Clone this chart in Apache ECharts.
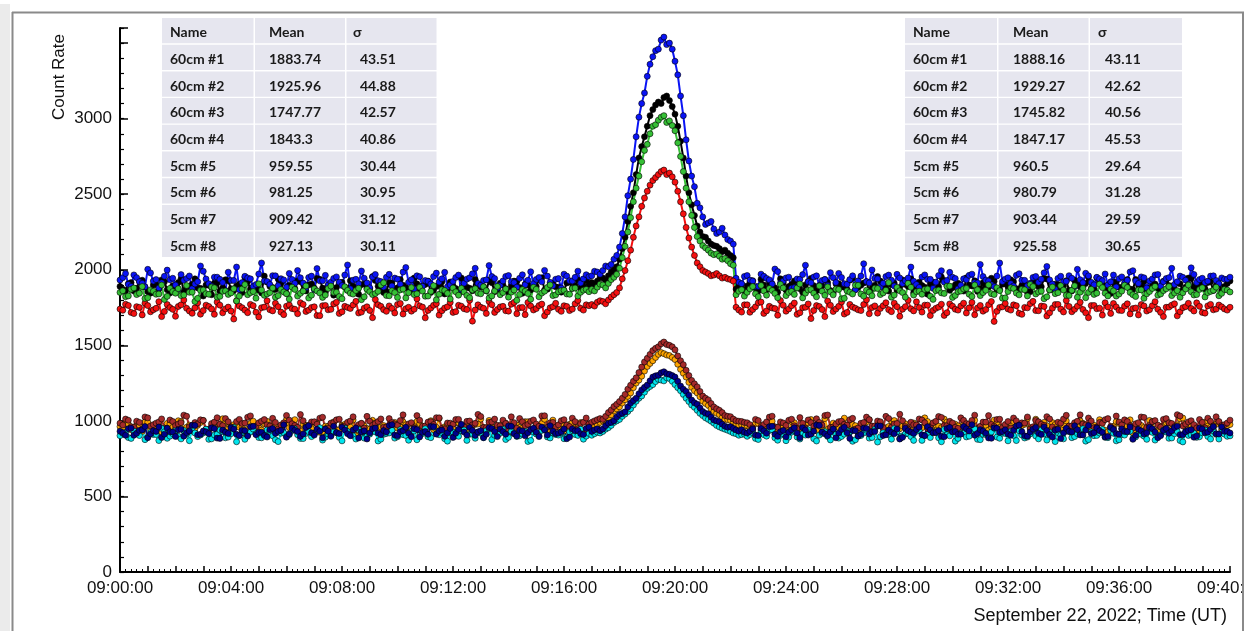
<!DOCTYPE html>
<html>
<head>
<meta charset="utf-8">
<script src="https://cdn.jsdelivr.net/npm/echarts@6/dist/echarts.min.js"></script>
<style>
html,body{margin:0;padding:0;background:#fff;}
#chart{width:1245px;height:631px;}
</style>
</head>
<body>
<div id="chart"></div>
<script>
// Samples: "A" arrays at 09:00:00 + 0,12,24,... s ; "B" arrays at 09:00:00 + 6,18,30,... s
const stepSeconds = 12;
const offsetB = 6;

// ---- 60 cm #1 (black) ----
const s60_1A = [1890,1862,1915,1878,1931,1855,1899,1873,1920,1846,1887,1941,1869,1905,1880,1826,1897,1911,1858,1934,1875,1893,1849,1922,1884,1866,1958,1891,1870,1909,1843,1888,1926,1861,1900,1879,1937,1852,1896,1883,1917,1864,1892,1838,1906,1874,1929,1887,1856,1912,1881,1898,1869,1945,1876,1903,1850,1889,1921,1866,1894,1841,1908,1878,1935,1886,1860,1914,1873,1899,1851,1925,1882,1904,1867,1890,1947,1871,1909,1885,1862,1918,1894,1877,1930,
1915,1925,1945,1960,2000,2070,2215,2420,2630,2815,2950,3060,3110,3140,3120,3030,2850,2620,2430,2290,2220,2190,2160,2140,2130,2095,
1872,1905,1893,1928,1860,1899,1916,1881,1940,1867,1902,1887,1851,1922,1895,1877,1936,1863,1908,1889,1870,1945,1884,1912,1856,1897,1925,1879,1903,1866,1933,1890,1848,1918,1885,1906,1872,1952,1894,1881,1911,1859,1899,1927,1876,1890,1944,1868,1904,1886,1921,1874,1897,1855,1913,1888,1939,1870,1902,1893,1865,1930,1887,1909,1878,1948,1891,1861,1917,1884,1900,1873,1936,1892,1858,1911,1880,1924,1896,1869,1907,1885,1942,1876,1898,1915,1863,1903,1889,1926];
const s60_1B = [1871,1908,1859,1924,1886,1845,1902,1933,1868,1895,1916,1853,1889,1940,1877,1899,1835,1912,1881,1927,1863,1904,1950,1872,1890,1847,1918,1883,1939,1858,1897,1876,1921,1860,1906,1943,1879,1893,1832,1910,1886,1928,1867,1901,1875,1955,1891,1849,1914,1870,1935,1882,1857,1907,1893,1925,1864,1898,1840,1919,1876,1946,1885,1861,1903,1888,1931,1855,1911,1874,1896,1922,1844,1900,1880,1938,1866,1905,1887,1852,1913,1878,1932,1890,1902,
1905,1950,1930,1985,2020,2140,2320,2510,2740,2880,3020,3090,3100,3150,3080,2950,2740,2510,2360,2250,2215,2170,2155,2120,2110,2080,
1897,1864,1919,1881,1937,1870,1906,1852,1913,1889,1926,1875,1900,1943,1862,1892,1915,1846,1908,1884,1931,1868,1897,1921,1877,1955,1890,1859,1911,1883,1903,1940,1871,1896,1838,1917,1888,1929,1864,1901,1879,1947,1893,1857,1914,1886,1923,1869,1908,1934,1875,1898,1851,1919,1890,1942,1866,1905,1881,1928,1860,1902,1887,1950,1873,1910,1894,1843,1916,1882,1935,1869,1899,1924,1877,1906,1858,1931,1891,1912,1867,1945,1886,1903,1874,1920,1896,1862,1909];

// ---- 60 cm #2 (blue) ----
const s60_2A = [1932,1975,1890,1948,1911,2003,1925,1880,1957,1934,1899,1968,1942,1875,1921,1990,1908,1951,1937,1862,1929,2018,1915,1946,1889,1972,1926,1903,1960,1941,1884,1936,1995,1912,1949,1870,1927,1963,1918,1953,1896,2032,1931,1907,1944,1881,1969,1922,1950,1893,1938,1985,1917,1872,1954,1929,1906,1978,1940,1888,1923,1965,1911,1947,2010,1898,1933,1955,1879,1926,1962,1915,1944,1901,1987,1936,1920,1958,1894,1942,1971,1928,1950,1912,1967,
1960,1985,1995,2020,2070,2150,2350,2600,2880,3100,3280,3410,3460,3540,3500,3380,3150,2860,2620,2440,2350,2310,2270,2250,2230,2190,
1944,1908,1962,1925,1890,1957,1933,2005,1912,1946,1878,1939,1968,1921,1952,1897,1935,1981,1916,1949,1904,1960,1927,2040,1913,1942,1886,1955,1931,1970,1909,1945,1924,1883,1966,1937,1918,1994,1929,1951,1874,1940,1963,1915,2035,1932,1901,1958,1922,1947,1893,1974,1930,1911,1956,1938,2022,1906,1943,1920,1961,1889,1934,1977,1917,1950,1928,1899,1965,1941,1912,1986,1926,1953,1880,1939,1969,1921,1948,1903,1958,1931,2013,1916,1944,1925,1960,1908,1937,1951];
const s60_2B = [1948,1903,1966,1921,1887,1979,1935,1914,1998,1944,1871,1930,1959,1906,2025,1939,1893,1951,1916,1984,1929,1868,1957,1940,1902,2045,1923,1961,1895,1933,1976,1910,1947,1881,1958,2008,1927,1899,1943,1918,1965,1874,1937,1992,1913,1952,1928,1886,1970,1945,1905,2015,1934,1960,1891,1924,1955,1919,1983,1900,1949,1866,1938,1973,1910,1929,2028,1942,1897,1956,1921,1885,1967,1931,1908,1949,1996,1917,1937,1879,1958,1926,1991,1940,1954,
1990,1970,2025,2035,2095,2240,2490,2730,3010,3170,3360,3450,3520,3490,3460,3290,3020,2720,2550,2410,2300,2320,2240,2275,2200,2170,
1917,1956,1932,1890,1971,1943,1906,1988,1925,1951,1882,1937,2030,1914,1960,1929,1897,1948,1976,1908,1935,1869,1958,1922,1999,1940,1911,1965,1893,1946,1927,2018,1903,1952,1936,1877,1962,1919,1983,1942,1898,1934,1971,1913,1955,1926,1889,2045,1938,1909,1963,1930,1895,1949,1918,1980,1933,1871,1957,1924,1944,2003,1915,1960,1901,1939,1972,1920,1886,1953,1931,1994,1910,1947,1926,1966,1892,1942,2010,1921,1950,1904,1969,1935,1915,1958,1929,1946,1938];

// ---- 60 cm #3 (red) ----
const s60_3A = [1740,1772,1718,1756,1701,1763,1735,1789,1724,1750,1692,1768,1745,1712,1781,1730,1757,1705,1766,1741,1727,1794,1749,1716,1762,1688,1753,1736,1778,1720,1759,1743,1709,1771,1733,1755,1696,1764,1738,1785,1722,1751,1767,1714,1746,1731,1803,1758,1725,1744,1770,1707,1752,1739,1761,1682,1747,1776,1729,1755,1718,1765,1742,1798,1734,1752,1711,1769,1737,1758,1726,1784,1749,1703,1760,1743,1773,1721,1756,1738,1762,1730,1775,1745,1768,
1770,1785,1790,1800,1835,1880,1995,2130,2290,2420,2520,2590,2630,2660,2640,2580,2450,2280,2150,2045,1995,1975,1965,1960,1950,1935,
1752,1720,1768,1737,1781,1711,1758,1743,1796,1726,1762,1705,1749,1774,1731,1757,1690,1765,1740,1787,1718,1753,1735,1770,1709,1761,1744,1782,1723,1756,1739,1798,1728,1750,1766,1697,1745,1772,1716,1759,1733,1779,1748,1702,1764,1737,1790,1725,1755,1741,1768,1712,1751,1776,1730,1760,1694,1746,1771,1721,1757,1738,1785,1715,1763,1742,1700,1754,1777,1732,1759,1708,1747,1770,1727,1762,1739,1690,1753,1775,1722,1756,1744,1781,1718,1761,1735,1767,1741,1752];
const s60_3B = [1732,1764,1710,1751,1779,1722,1745,1690,1770,1738,1757,1800,1727,1748,1706,1766,1741,1786,1715,1753,1674,1760,1733,1771,1719,1749,1795,1728,1756,1703,1767,1739,1782,1724,1750,1697,1762,1735,1774,1711,1758,1744,1791,1720,1755,1683,1769,1736,1761,1714,1777,1742,1726,1808,1753,1731,1765,1700,1747,1784,1723,1759,1737,1660,1768,1745,1790,1718,1754,1729,1772,1709,1751,1783,1734,1763,1696,1748,1778,1725,1757,1740,1797,1733,1762,
1760,1795,1775,1820,1850,1940,2060,2215,2350,2475,2560,2610,2650,2630,2615,2520,2370,2210,2095,2020,1985,1960,1975,1945,1940,1925,
1734,1768,1719,1755,1787,1728,1747,1699,1765,1741,1780,1716,1752,1677,1763,1737,1793,1724,1758,1707,1771,1745,1730,1801,1750,1713,1762,1736,1779,1692,1756,1742,1788,1720,1766,1731,1753,1698,1774,1739,1760,1714,1784,1747,1726,1769,1658,1751,1777,1733,1762,1705,1748,1791,1729,1757,1716,1770,1740,1796,1722,1759,1737,1683,1764,1746,1782,1711,1754,1730,1775,1743,1701,1761,1736,1789,1718,1752,1766,1695,1749,1778,1727,1758,1713,1771,1740,1755,1733];

// ---- 60 cm #4 (green) ----
const s60_4A = [1850,1822,1871,1836,1889,1815,1858,1840,1803,1877,1845,1829,1896,1852,1811,1866,1838,1881,1824,1860,1847,1794,1873,1835,1856,1907,1831,1849,1818,1869,1842,1885,1826,1859,1813,1874,1846,1833,1892,1851,1808,1864,1839,1878,1821,1855,1843,1899,1830,1861,1817,1872,1848,1836,1884,1825,1857,1801,1868,1844,1880,1832,1853,1815,1875,1841,1862,1827,1890,1849,1819,1866,1837,1858,1805,1871,1846,1883,1829,1854,1864,1838,1879,1851,1870,
1870,1885,1900,1910,1950,2010,2155,2345,2540,2715,2830,2950,2990,3020,2985,2920,2750,2540,2360,2220,2160,2130,2100,2090,2075,2040,
1835,1868,1851,1889,1822,1860,1876,1843,1904,1829,1857,1880,1814,1866,1845,1893,1831,1854,1872,1808,1861,1840,1897,1826,1852,1878,1836,1865,1819,1883,1849,1910,1833,1858,1870,1825,1862,1847,1891,1817,1855,1873,1838,1899,1829,1864,1842,1881,1812,1856,1876,1834,1868,1903,1840,1859,1821,1886,1848,1866,1830,1894,1852,1815,1871,1845,1882,1827,1860,1839,1898,1850,1823,1867,1841,1876,1832,1862,1889,1846,1818,1873,1855,1836,1881,1849,1864,1828,1870,1853];
const s60_4B = [1861,1827,1880,1845,1810,1867,1838,1899,1824,1856,1875,1833,1851,1790,1864,1842,1886,1819,1858,1837,1874,1826,1902,1848,1812,1866,1840,1879,1829,1853,1806,1870,1844,1893,1832,1860,1817,1876,1850,1823,1888,1845,1863,1802,1871,1836,1857,1914,1828,1849,1867,1814,1882,1841,1859,1826,1895,1838,1863,1807,1854,1877,1830,1866,1845,1888,1813,1860,1835,1873,1852,1798,1869,1843,1884,1821,1858,1900,1834,1862,1840,1876,1826,1865,1855,
1860,1905,1880,1935,1970,2080,2250,2450,2620,2790,2900,2960,3010,2975,2955,2840,2650,2450,2280,2190,2145,2110,2105,2070,2060,2030,
1858,1826,1874,1841,1896,1832,1863,1815,1880,1850,1837,1906,1845,1869,1821,1858,1887,1834,1870,1811,1852,1898,1840,1865,1828,1876,1847,1915,1833,1861,1819,1884,1855,1838,1873,1804,1866,1843,1892,1830,1859,1877,1823,1868,1849,1900,1836,1862,1814,1881,1846,1871,1827,1889,1853,1808,1867,1842,1895,1831,1864,1818,1878,1850,1837,1905,1845,1872,1826,1859,1883,1835,1867,1811,1856,1890,1840,1874,1829,1862,1848,1899,1833,1870,1820,1857,1885,1844,1866];

// ---- 5 cm #5 (orange) ----
const s5_5A = [962,985,941,973,930,991,955,968,926,979,947,996,958,934,971,1003,940,966,951,988,929,975,960,944,998,957,982,936,969,952,1010,963,938,977,949,991,924,965,980,942,971,955,1006,933,967,946,985,959,920,974,952,993,937,968,981,945,1001,958,929,970,950,987,962,935,976,1012,943,964,953,990,927,972,957,995,939,966,982,948,1005,961,933,978,954,989,944,
975,972,1000,1018,1066,1093,1140,1185,1250,1296,1360,1398,1440,1445,1432,1406,1341,1290,1222,1185,1130,1102,1063,1041,1010,1002,980,975,
968,941,983,957,1002,936,972,950,994,929,964,987,945,978,1015,938,961,990,952,975,926,969,1008,947,981,955,999,934,966,948,986,960,1020,943,973,956,992,931,967,980,951,1004,939,971,959,985,922,963,996,946,977,954,1011,937,968,989,949,974,932,961,1000,944,979,958,991,928,965,983,950,1007,940,970,953,995,935,962,988,947,1014,957,973,930,984,966,943,992,955,976];
const s5_5B = [951,978,937,969,992,944,963,925,983,957,1001,940,972,948,989,931,966,953,1014,946,975,958,921,984,962,939,997,968,943,980,955,1008,934,971,949,986,927,964,993,941,977,960,917,982,950,1004,945,969,935,990,959,974,928,996,953,980,942,1016,961,937,987,948,970,923,979,956,1003,940,966,985,932,973,951,994,944,968,1011,938,962,981,947,990,958,929,976,
968,990,1005,1040,1080,1118,1162,1220,1270,1330,1380,1420,1452,1436,1420,1375,1315,1255,1200,1160,1115,1080,1050,1022,1008,990,972,965,
955,982,940,970,998,946,965,927,988,951,975,1009,936,962,944,985,957,1018,930,968,952,993,941,976,924,963,1002,948,981,937,970,955,996,933,966,1012,945,978,920,960,987,950,973,939,1005,958,929,983,947,969,1015,942,964,990,935,976,953,1000,926,961,984,944,971,1008,938,957,995,949,967,921,979,956,1003,932,962,988,945,974,1019,950,965,936,991,958,977,943,969];

// ---- 5 cm #6 (brown) ----
const s5_6A = [985,1012,962,998,947,1020,975,993,951,1006,969,988,1031,958,980,1003,944,992,977,1015,960,996,982,1024,954,987,1009,966,990,973,1036,981,957,1001,970,994,1018,948,985,1007,963,991,1027,975,952,998,983,1013,959,989,972,1040,980,955,1004,967,995,1021,950,986,978,1010,961,999,984,1029,956,993,971,1005,945,988,1016,968,997,979,1033,958,990,974,1008,963,995,982,1019,
991,1008,1010,1055,1095,1128,1175,1236,1285,1356,1414,1465,1490,1522,1500,1470,1398,1335,1268,1225,1164,1139,1092,1070,1035,1028,1001,996,
987,954,1002,976,1025,961,993,970,1011,948,984,1006,965,990,1035,957,979,998,972,1017,953,989,1008,967,994,1030,959,983,1001,946,975,1013,988,962,997,1023,969,986,951,1004,980,1038,964,992,977,1009,955,996,1019,970,985,947,1003,978,1028,960,991,1012,966,988,1040,973,999,958,984,1015,949,993,1007,968,981,1026,956,995,972,1010,987,962,1032,979,1001,953,990,1018,967,996,975,1005];
const s5_6B = [973,1004,958,990,1026,966,985,1013,950,996,979,1038,962,989,1007,945,982,1021,969,994,955,1010,986,1033,963,998,974,1017,948,987,1005,970,1042,960,993,978,1024,952,989,1011,967,999,944,984,1030,971,996,958,1015,980,1002,953,988,1035,965,992,976,1020,947,985,1009,961,997,974,1043,956,990,1012,968,983,1027,951,994,977,1006,964,1034,987,959,1001,972,1018,949,991,980,
1000,1015,1030,1072,1110,1150,1210,1262,1320,1390,1440,1480,1510,1505,1490,1430,1372,1300,1245,1195,1150,1115,1080,1055,1030,1012,998,990,
975,1010,962,993,1031,957,986,1004,968,1022,951,989,1014,972,1039,960,995,978,1008,946,984,1025,966,999,955,1016,980,1044,963,991,973,1006,950,987,1029,969,997,958,1020,982,1003,948,992,1035,965,1011,976,953,1000,987,1026,961,994,971,1013,944,985,1037,967,998,979,1019,956,990,1008,963,1032,974,996,952,988,1023,970,1002,959,1015,983,1041,966,993,975,1009,954,997,1027,969,986];

// ---- 5 cm #7 (cyan) ----
const s5_7A = [902,925,884,916,941,893,910,870,928,899,934,881,913,950,896,920,878,907,939,888,915,862,924,905,946,890,911,931,875,918,897,936,908,883,929,914,955,892,906,921,868,930,901,943,886,912,927,879,917,938,895,909,872,933,904,948,889,914,923,866,926,898,940,911,885,919,935,876,908,944,891,916,902,929,871,913,937,894,921,906,882,927,910,945,899,
905,925,930,955,990,1010,1045,1080,1130,1165,1215,1240,1275,1265,1280,1240,1200,1150,1105,1070,1035,1010,985,960,945,930,915,910,
898,921,877,909,936,888,904,869,925,893,915,941,882,906,929,874,911,897,934,865,902,920,886,944,895,913,879,928,901,916,871,937,905,890,924,862,908,931,884,917,899,947,876,910,926,893,919,868,903,935,887,914,900,939,873,907,922,881,930,896,912,866,927,904,943,889,918,875,906,932,894,911,878,924,902,938,885,915,870,929,907,891,921,897,933,880,912,901];
const s5_7B = [918,890,932,903,876,924,910,951,885,915,898,937,869,920,907,945,881,912,930,893,956,904,878,926,915,888,940,901,863,922,909,947,884,917,896,933,873,914,928,891,952,906,880,925,899,938,867,911,920,886,942,903,929,875,916,895,958,908,882,923,900,935,871,912,927,889,949,905,918,877,931,897,913,864,926,902,944,887,910,921,893,936,904,879,917,
915,920,945,970,1000,1030,1062,1105,1150,1190,1228,1260,1270,1285,1262,1220,1175,1128,1090,1050,1020,998,970,952,938,920,905,912,
910,884,927,899,941,872,915,893,934,880,906,922,867,918,897,946,886,912,928,875,903,938,890,860,921,908,949,882,914,896,931,871,909,925,888,943,901,866,919,894,936,878,911,900,952,885,917,929,870,906,893,940,881,913,924,863,905,933,889,916,948,876,902,920,891,937,868,910,927,883,914,899,945,873,908,926,887,930,861,904,919,895,939,880,911,923,898];

// ---- 5 cm #8 (navy) ----
const s5_8A = [931,905,952,918,940,889,935,960,912,928,897,945,922,971,908,933,916,949,884,926,955,911,938,900,964,924,903,942,917,937,892,951,929,914,968,906,931,946,898,923,958,915,940,887,934,920,953,909,927,975,902,936,918,948,894,930,963,913,939,921,890,944,926,957,904,935,911,950,896,929,967,916,938,901,943,925,959,907,932,919,947,893,934,915,950,
930,948,946,985,1001,1043,1060,1118,1150,1205,1237,1290,1302,1325,1308,1290,1231,1195,1138,1110,1062,1046,1006,995,965,962,940,941,
920,947,903,934,961,912,928,895,941,919,955,906,932,970,915,926,888,944,921,937,899,952,913,930,966,908,924,946,891,935,917,959,902,940,923,898,949,927,911,963,933,905,942,918,885,951,929,914,938,972,901,926,957,910,936,893,945,920,931,968,907,939,916,953,924,897,943,912,930,960,904,934,921,948,889,937,918,956,909,928,941,900,946,925,962,913,931,920];
const s5_8B = [922,948,905,937,963,914,930,890,952,926,941,899,933,970,911,928,954,886,939,917,946,903,935,962,909,925,893,950,931,974,913,938,897,957,921,944,888,932,965,916,940,902,953,927,880,948,919,936,969,907,929,958,895,943,924,911,961,934,898,950,918,977,906,937,926,889,955,930,945,912,964,900,933,921,952,896,940,968,915,928,882,947,936,910,958,
940,935,968,990,1025,1050,1092,1135,1180,1222,1265,1298,1318,1312,1300,1262,1210,1170,1120,1085,1050,1025,1000,978,958,950,932,925,
931,906,949,918,964,898,937,925,955,889,940,913,972,927,901,946,920,958,884,934,911,950,928,967,903,939,915,880,952,926,943,908,962,921,936,895,957,930,912,948,975,917,933,887,954,924,941,905,966,929,899,945,919,960,910,938,883,951,927,942,907,969,922,935,894,956,916,947,929,878,944,913,958,926,902,950,934,965,909,938,892,953,921,944,915,960,931];

// ---- tables ----
const tableHeader = ['Name', 'Mean', 'σ'];
const detectorNames = ['60cm #1','60cm #2','60cm #3','60cm #4','5cm #5','5cm #6','5cm #7','5cm #8'];
const leftMeans  = ['1883.74','1925.96','1747.77','1843.3','959.55','981.25','909.42','927.13'];
const leftSigmas = ['43.51','44.88','42.57','40.86','30.44','30.95','31.12','30.11'];
const rightMeans  = ['1888.16','1929.27','1745.82','1847.17','960.5','980.79','903.44','925.58'];
const rightSigmas = ['43.11','42.62','40.56','45.53','29.64','31.28','29.59','30.65'];

// ---- axis ticks ----
const xLabelEverySeconds = 240;
const yLabelMax = 3000;

// series definitions (draw order)
const seriesDefs = [
  {name:'60cm #1', a:s60_1A, b:s60_1B, color:'#000000'},
  {name:'60cm #2', a:s60_2A, b:s60_2B, color:'#0a14f5'},
  {name:'60cm #3', a:s60_3A, b:s60_3B, color:'#f51010'},
  {name:'60cm #4', a:s60_4A, b:s60_4B, color:'#36c036'},
  {name:'5cm #5', a:s5_5A, b:s5_5B, color:'#ffa500'},
  {name:'5cm #6', a:s5_6A, b:s5_6B, color:'#a52a2a'},
  {name:'5cm #7', a:s5_7A, b:s5_7B, color:'#00e5ee'},
  {name:'5cm #8', a:s5_8A, b:s5_8B, color:'#00008b'}
];

function mergeSamples(a, b){
  const out = [];
  for (let i=0;i<a.length;i++){
    out.push([i*stepSeconds, a[i]]);
    if (i < b.length) out.push([i*stepSeconds+offsetB, b[i]]);
  }
  return out;
}

function fmtTime(sec){
  const m = Math.floor(sec/60), s = sec%60;
  return '09:' + String(m).padStart(2,'0') + ':' + String(s).padStart(2,'0');
}

const chart = echarts.init(document.getElementById('chart'), null, {renderer:'canvas'});

const series = seriesDefs.map(d => ({
  name: d.name,
  type: 'line',
  xAxisIndex: 0,
  yAxisIndex: 0,
  data: mergeSamples(d.a, d.b),
  symbol: 'circle',
  symbolSize: 6,
  showSymbol: true,
  showAllSymbol: true,
  itemStyle: {color: d.color, borderColor:'#000', borderWidth:0.6},
  lineStyle: {color: d.color, width: 2},
  emphasis: {disabled:true},
  animation: false
}));

// table graphics
const graphics = [];
function addTable(x0, colW, textX, means, sigmas){
  const top = 18, rowH = 26.7, gap = 1.4;
  const rows = [tableHeader].concat(detectorNames.map((n,i)=>[n, means[i], sigmas[i]]));
  rows.forEach((r, k) => {
    let cx = x0;
    for (let c=0;c<3;c++){
      graphics.push({type:'rect', z:50, shape:{x:cx, y:top+k*rowH, width:colW[c], height:rowH-gap}, style:{fill:'#e6e6ef'}});
      cx += colW[c] + 1.5;
    }
    for (let c=0;c<3;c++){
      let tx = textX[c];
      if (c===2 && k===0) tx -= 7;
      graphics.push({type:'text', z:51, x:tx, y:top+k*rowH+(rowH-gap)/2+2,
        style:{text:r[c], fill:'#1a1a1a', font:'bold 14px Lato', textVerticalAlign:'middle', textAlign:'left'}});
    }
  });
}
addTable(162, [91.5, 90, 90], [170, 269, 360], leftMeans, leftSigmas);
addTable(905, [92, 90, 92], [913, 1013, 1105], rightMeans, rightSigmas);

// frame & titles
graphics.push(
  {type:'rect', z:100, shape:{x:0, y:4, width:10, height:627}, style:{fill:'#ebebeb'}},
  {type:'line', z:100, shape:{x1:12.5, y1:12, x2:12.5, y2:631}, style:{stroke:'#8a8a8a', lineWidth:2}},
  {type:'line', z:100, shape:{x1:12, y1:12.5, x2:1244, y2:12.5}, style:{stroke:'#8a8a8a', lineWidth:2}},
  {type:'rect', z:100, shape:{x:1242, y:12, width:2, height:619}, style:{fill:'#8a8a8a'}},
  {type:'rect', z:100, shape:{x:1244, y:0, width:1, height:631}, style:{fill:'#ffffff'}},
  {type:'text', z:60, x:59, y:77, rotation:Math.PI/2,
    style:{text:'Count Rate', fill:'#111', font:'17px "Liberation Sans"', textAlign:'center', textVerticalAlign:'middle'}},
  {type:'text', z:60, x:1227, y:616,
    style:{text:'September 22, 2022; Time (UT)', fill:'#111', font:'18px "Liberation Sans"', textAlign:'right', textVerticalAlign:'middle'}}
);

chart.setOption({
  animation: false,
  backgroundColor: '#ffffff',
  grid: {left:120, right:15, top:28, bottom:59, containLabel:false, outerBoundsMode:'none'},
  xAxis: {
    type:'value', min:0, max:2400, interval:60,
    axisLine:{show:true, lineStyle:{color:'#000', width:2}},
    axisTick:{show:true, inside:true, length:6, lineStyle:{color:'#000', width:1.5}},
    minorTick:{show:true, splitNumber:5, length:3, lineStyle:{color:'#000', width:1}},
    splitLine:{show:false}, minorSplitLine:{show:false},
    axisLabel:{show:true, margin:8, fontSize:17, color:'#111', fontFamily:'Liberation Sans',
      formatter: v => (v % xLabelEverySeconds === 0 ? fmtTime(v) : '')}
  },
  yAxis: [
    {
      type:'value', min:0, max:3600, interval:500, position:'left',
      axisLine:{show:true, lineStyle:{color:'#000', width:2}},
      axisTick:{show:true, inside:true, length:8, lineStyle:{color:'#000', width:1.5}},
      splitLine:{show:false},
      axisLabel:{show:true, margin:8, fontSize:17, color:'#111', fontFamily:'Liberation Sans',
        formatter: v => (v <= yLabelMax ? String(v) : '')}
    },
    {
      type:'value', min:0, max:3600, interval:100, position:'left', offset:0,
      axisLine:{show:false},
      axisTick:{show:true, inside:true, length:4, lineStyle:{color:'#000', width:1.2}},
      splitLine:{show:false},
      axisLabel:{show:false}
    }
  ],
  series: series,
  graphic: graphics
});
</script>
</body>
</html>
